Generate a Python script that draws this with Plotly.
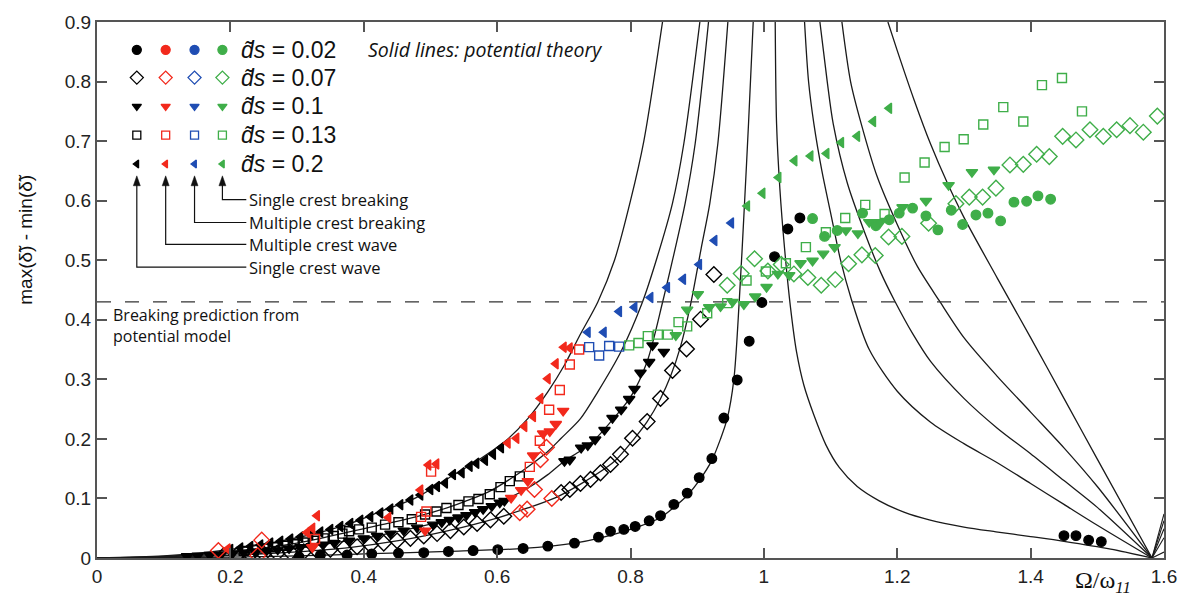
import plotly.graph_objects as go

# ---------------- potential-theory response curves ----------------
# lower (left) branches, one per excitation amplitude d_s
th_lo_002_x = [0, 0.1, 0.2, 0.3, 0.412, 0.527, 0.639, 0.716, 0.752, 0.8, 0.845, 0.866, 0.885, 0.903, 0.922, 0.935, 0.945, 0.955, 0.963, 0.971, 0.977, 0.984]
th_lo_002_y = [0, 0.0004, 0.0015, 0.0036, 0.0072, 0.011, 0.016, 0.025, 0.033, 0.048, 0.068, 0.086, 0.105, 0.13, 0.164, 0.2, 0.234, 0.3, 0.43, 0.596, 0.73, 0.9]

th_lo_007_x = [0, 0.1, 0.2, 0.3, 0.378, 0.452, 0.527, 0.601, 0.646, 0.687, 0.725, 0.776, 0.806, 0.825, 0.845, 0.86, 0.875, 0.89, 0.906, 0.919, 0.931, 0.946]
th_lo_007_y = [0, 0.0011, 0.0044, 0.0104, 0.0175, 0.029, 0.046, 0.0675, 0.084, 0.101, 0.124, 0.1625, 0.201, 0.229, 0.2675, 0.305, 0.355, 0.425, 0.52, 0.596, 0.696, 0.9]

th_lo_010_x = [0, 0.1, 0.2, 0.3, 0.378, 0.427, 0.478, 0.527, 0.576, 0.611, 0.65, 0.676, 0.701, 0.725, 0.75, 0.776, 0.8, 0.825, 0.848, 0.863, 0.882, 0.897, 0.917]
th_lo_010_y = [0, 0.0018, 0.0072, 0.0172, 0.029, 0.039, 0.051, 0.065, 0.082, 0.097, 0.12, 0.14, 0.163, 0.18, 0.203, 0.236, 0.27, 0.33, 0.429, 0.5, 0.596, 0.696, 0.9]

th_lo_013_x = [0, 0.1, 0.2, 0.3, 0.378, 0.427, 0.478, 0.527, 0.552, 0.587, 0.627, 0.651, 0.676, 0.696, 0.725, 0.751, 0.785, 0.818, 0.84, 0.863, 0.88, 0.904]
th_lo_013_y = [0, 0.0025, 0.0105, 0.025, 0.044, 0.056, 0.069, 0.085, 0.095, 0.111, 0.138, 0.157, 0.179, 0.201, 0.234, 0.279, 0.345, 0.43, 0.505, 0.596, 0.696, 0.9]

th_lo_020_x = [0, 0.1, 0.2, 0.3, 0.378, 0.427, 0.478, 0.527, 0.576, 0.612, 0.646, 0.676, 0.701, 0.724, 0.751, 0.776, 0.8, 0.82, 0.848]
th_lo_020_y = [0, 0.0035, 0.0144, 0.034, 0.0575, 0.079, 0.101, 0.134, 0.1675, 0.196, 0.234, 0.279, 0.324, 0.374, 0.43, 0.5, 0.6, 0.7, 0.9]

# upper (right) branches, falling to zero at the anti-resonance
th_hi_002_x = [1.017, 1.019, 1.024, 1.031, 1.04, 1.049, 1.06, 1.075, 1.093, 1.113, 1.14, 1.173, 1.21, 1.248, 1.3, 1.348, 1.4, 1.45, 1.52, 1.582]
th_hi_002_y = [0.9, 0.73, 0.62, 0.52, 0.42, 0.346, 0.29, 0.24, 0.19, 0.152, 0.12, 0.096, 0.077, 0.064, 0.052, 0.044, 0.036, 0.028, 0.015, 0]

th_hi_007_x = [1.061, 1.067, 1.075, 1.087, 1.1, 1.115, 1.131, 1.158, 1.2, 1.25, 1.3, 1.35, 1.4, 1.45, 1.5, 1.582]
th_hi_007_y = [0.9, 0.8, 0.729, 0.65, 0.58, 0.5, 0.435, 0.35, 0.28, 0.228, 0.192, 0.16, 0.125, 0.09, 0.055, 0]

th_hi_010_x = [1.084, 1.095, 1.104, 1.125, 1.15, 1.175, 1.196, 1.224, 1.25, 1.3, 1.35, 1.4, 1.45, 1.5, 1.582]
th_hi_010_y = [0.9, 0.8, 0.729, 0.63, 0.55, 0.48, 0.432, 0.375, 0.33, 0.268, 0.218, 0.175, 0.13, 0.085, 0]

th_hi_013_x = [1.117, 1.13, 1.146, 1.17, 1.2, 1.23, 1.263, 1.3, 1.35, 1.4, 1.45, 1.5, 1.582]
th_hi_013_y = [0.9, 0.8, 0.729, 0.64, 0.56, 0.49, 0.432, 0.37, 0.305, 0.245, 0.185, 0.12, 0]

th_hi_020_x = [1.186, 1.2, 1.225, 1.25, 1.275, 1.3, 1.35, 1.4, 1.45, 1.5, 1.582]
th_hi_020_y = [0.9, 0.852, 0.77, 0.695, 0.63, 0.572, 0.47, 0.37, 0.268, 0.166, 0]

# short rise past the anti-resonance point
tail_x = [1.582, 1.6]
tail_end_y = [0.01, 0.034, 0.049, 0.0625, 0.074]

# ---------------- experiments ----------------
# single crest wave (black)
sw_002_x = [0.303, 0.335, 0.375, 0.412, 0.452, 0.49, 0.527, 0.564, 0.601, 0.639, 0.676, 0.716, 0.752, 0.77, 0.79, 0.807, 0.828, 0.845, 0.865, 0.885, 0.903, 0.922, 0.94, 0.96, 0.978, 0.997, 1.016, 1.036, 1.054, 1.45, 1.468, 1.487, 1.506]
sw_002_y = [0.002, 0.005, 0.005, 0.007, 0.008, 0.009, 0.011, 0.0125, 0.014, 0.016, 0.02, 0.025, 0.035, 0.045, 0.048, 0.053, 0.0625, 0.071, 0.09, 0.109, 0.135, 0.167, 0.235, 0.299, 0.364, 0.429, 0.506, 0.5525, 0.571, 0.0375, 0.0375, 0.03, 0.0275]

sw_007_x = [0.19, 0.21, 0.23, 0.25, 0.27, 0.29, 0.31, 0.33, 0.35, 0.37, 0.39, 0.41, 0.43, 0.45, 0.47, 0.49, 0.51, 0.53, 0.55, 0.57, 0.59, 0.61, 0.696, 0.709, 0.725, 0.74, 0.755, 0.77, 0.785, 0.803, 0.825, 0.845, 0.863, 0.884, 0.905, 0.925]
sw_007_y = [0.004, 0.005, 0.006, 0.007, 0.008, 0.0095, 0.0105, 0.012, 0.0145, 0.0165, 0.019, 0.022, 0.025, 0.029, 0.033, 0.037, 0.041, 0.046, 0.052, 0.058, 0.064, 0.07, 0.11, 0.115, 0.125, 0.132, 0.143, 0.157, 0.174, 0.201, 0.229, 0.268, 0.315, 0.351, 0.401, 0.476]

sw_010_x = [0.135, 0.151, 0.169, 0.186, 0.203, 0.22, 0.237, 0.254, 0.271, 0.288, 0.305, 0.322, 0.339, 0.356, 0.378, 0.4, 0.42, 0.44, 0.46, 0.48, 0.504, 0.517, 0.529, 0.542, 0.554, 0.567, 0.579, 0.592, 0.604, 0.611, 0.701, 0.709, 0.726, 0.736, 0.747, 0.761, 0.773, 0.786, 0.798, 0.806, 0.815, 0.828, 0.833, 0.85]
sw_010_y = [0.003, 0.004, 0.005, 0.006, 0.0075, 0.009, 0.0105, 0.012, 0.014, 0.016, 0.018, 0.02, 0.0225, 0.025, 0.029, 0.033, 0.037, 0.041, 0.046, 0.051, 0.056, 0.06, 0.064, 0.068, 0.072, 0.077, 0.082, 0.087, 0.093, 0.096, 0.1625, 0.165, 0.185, 0.189, 0.199, 0.215, 0.235, 0.249, 0.267, 0.284, 0.311, 0.329, 0.357, 0.346]

sw_013_x = [0.22, 0.235, 0.25, 0.265, 0.28, 0.295, 0.31, 0.325, 0.34, 0.355, 0.368, 0.378, 0.393, 0.412, 0.432, 0.452, 0.472, 0.492, 0.509, 0.524, 0.542, 0.557, 0.572, 0.589, 0.605, 0.619, 0.634]
sw_013_y = [0.012, 0.014, 0.016, 0.018, 0.0205, 0.023, 0.026, 0.029, 0.033, 0.037, 0.041, 0.045, 0.048, 0.051, 0.056, 0.06, 0.065, 0.073, 0.078, 0.084, 0.089, 0.095, 0.099, 0.107, 0.119, 0.129, 0.137]

sw_020_x = [0.2, 0.215, 0.23, 0.245, 0.26, 0.275, 0.29, 0.305, 0.32, 0.335, 0.35, 0.365, 0.38, 0.395, 0.41, 0.425, 0.44, 0.455, 0.47, 0.485, 0.5, 0.51, 0.522, 0.534, 0.547, 0.559, 0.569, 0.582, 0.594, 0.606]
sw_020_y = [0.0144, 0.0167, 0.0193, 0.022, 0.025, 0.0283, 0.0317, 0.0354, 0.0393, 0.0436, 0.048, 0.0529, 0.058, 0.0635, 0.0694, 0.0757, 0.0824, 0.0896, 0.0974, 0.1056, 0.115, 0.12, 0.126, 0.14, 0.143, 0.154, 0.159, 0.164, 0.174, 0.185]

# multiple crest wave (red)
mw_007_x = [0.182, 0.241, 0.247, 0.634, 0.645, 0.656, 0.665, 0.674, 0.682]
mw_007_y = [0.0125, 0.004, 0.03, 0.076, 0.082, 0.115, 0.165, 0.186, 0.1]

mw_010_x = [0.323, 0.492, 0.621, 0.636, 0.646, 0.654, 0.669, 0.679, 0.688, 0.699]
mw_010_y = [0.018, 0.046, 0.101, 0.114, 0.129, 0.172, 0.209, 0.2125, 0.225, 0.247]

mw_013_x = [0.327, 0.486, 0.494, 0.501, 0.649, 0.664, 0.678, 0.694, 0.709, 0.723]
mw_013_y = [0.032, 0.069, 0.078, 0.145, 0.153, 0.197, 0.249, 0.282, 0.325, 0.35]

mw_020_x = [0.196, 0.315, 0.323, 0.33, 0.437, 0.485, 0.497, 0.509, 0.616, 0.629, 0.641, 0.654, 0.665, 0.676, 0.688, 0.7, 0.709]
mw_020_y = [0.015, 0.043, 0.05, 0.071, 0.068, 0.114, 0.156, 0.158, 0.193, 0.201, 0.221, 0.2375, 0.268, 0.301, 0.326, 0.354, 0.3525]

# multiple crest breaking (blue)
mb_013_x = [0.738, 0.753, 0.768, 0.783]
mb_013_y = [0.354, 0.34, 0.356, 0.355]

mb_020_x = [0.736, 0.76, 0.783, 0.806, 0.83, 0.855, 0.879, 0.903, 0.926, 0.951]
mb_020_y = [0.379, 0.379, 0.414, 0.421, 0.4375, 0.454, 0.468, 0.493, 0.533, 0.5625]

# single crest breaking (green)
sb_002_x = [1.073, 1.091, 1.11, 1.148, 1.168, 1.188, 1.203, 1.223, 1.243, 1.261, 1.281, 1.298, 1.318, 1.336, 1.355, 1.375, 1.394, 1.411, 1.43]
sb_002_y = [0.57, 0.54, 0.55, 0.579, 0.558, 0.568, 0.579, 0.5875, 0.5745, 0.551, 0.584, 0.56, 0.576, 0.579, 0.566, 0.5975, 0.599, 0.608, 0.6025]

sb_007_x = [0.945, 0.966, 0.986, 1.006, 1.026, 1.045, 1.066, 1.086, 1.107, 1.127, 1.147, 1.167, 1.187, 1.207, 1.247, 1.288, 1.308, 1.328, 1.348, 1.369, 1.389, 1.409, 1.428, 1.448, 1.468, 1.489, 1.509, 1.529, 1.549, 1.569, 1.59]
sb_007_y = [0.458, 0.4775, 0.5025, 0.482, 0.493, 0.477, 0.471, 0.458, 0.4675, 0.494, 0.509, 0.508, 0.539, 0.54, 0.562, 0.595, 0.606, 0.606, 0.621, 0.66, 0.661, 0.678, 0.674, 0.708, 0.702, 0.719, 0.708, 0.719, 0.726, 0.715, 0.742]

sb_010_x = [0.868, 0.885, 0.901, 0.918, 0.935, 0.953, 0.97, 0.987, 1.004, 1.021, 1.038, 1.055, 1.073, 1.089, 1.106, 1.123, 1.141, 1.158, 1.175, 1.208, 1.243, 1.277, 1.312, 1.345]
sb_010_y = [0.374, 0.417, 0.443, 0.421, 0.4225, 0.43, 0.426, 0.439, 0.455, 0.477, 0.475, 0.495, 0.499, 0.511, 0.522, 0.55, 0.545, 0.564, 0.564, 0.589, 0.5995, 0.626, 0.648, 0.652]

sb_013_x = [0.798, 0.812, 0.826, 0.841, 0.856, 0.872, 0.885, 0.915, 0.945, 0.974, 1.003, 1.033, 1.063, 1.093, 1.122, 1.152, 1.181, 1.211, 1.241, 1.271, 1.2996, 1.329, 1.359, 1.389, 1.417, 1.447, 1.477]
sb_013_y = [0.357, 0.361, 0.3725, 0.375, 0.375, 0.396, 0.389, 0.411, 0.428, 0.466, 0.481, 0.495, 0.522, 0.547, 0.571, 0.593, 0.5775, 0.639, 0.664, 0.69, 0.703, 0.728, 0.757, 0.733, 0.794, 0.806, 0.75]

sb_020_x = [0.975, 0.998, 1.022, 1.046, 1.07, 1.094, 1.116, 1.14, 1.164, 1.188]
sb_020_y = [0.591, 0.6125, 0.639, 0.667, 0.675, 0.679, 0.6975, 0.708, 0.733, 0.755]

breaking_level = 0.43

legend_values = ["0.02", "0.07", "0.1", "0.13", "0.2"]
regime_labels = ["Single crest wave", "Multiple crest wave", "Multiple crest breaking", "Single crest breaking"]

# ---------------- styling ----------------
BLACK = "#000000"
RED = "#f2291c"
BLUE = "#1f4db3"
GREEN = "#3fae49"
LINE = "#1a1a1a"
AXIS = "#555555"

symbols = {
    "0.02": ("circle", 9.5, 9),
    "0.07": ("diamond-open", 12, 10),
    "0.1": ("triangle-down", 10, 8),
    "0.13": ("square-open", 9, 8),
    "0.2": ("triangle-left", 9, 7),
}

# plot-area pixel frame (used for the in-plot key and free text)
PX_L, PX_R, PX_T, PX_B = 97, 1169, 18, 558


def px_to_paper(px, py):
    return (px - PX_L) / (PX_R - PX_L), (PX_B - py) / (PX_B - PX_T)


fig = go.Figure()

# theory curves
lo_curves = [(th_lo_002_x, th_lo_002_y), (th_lo_007_x, th_lo_007_y), (th_lo_010_x, th_lo_010_y),
             (th_lo_013_x, th_lo_013_y), (th_lo_020_x, th_lo_020_y)]
hi_curves = [(th_hi_002_x, th_hi_002_y), (th_hi_007_x, th_hi_007_y), (th_hi_010_x, th_hi_010_y),
             (th_hi_013_x, th_hi_013_y), (th_hi_020_x, th_hi_020_y)]
for cx, cy in lo_curves + hi_curves:
    fig.add_trace(go.Scatter(x=cx, y=cy, mode="lines", line=dict(color=LINE, width=1.3, shape="spline", smoothing=0.8),
                             hoverinfo="skip", showlegend=False))
for ty in tail_end_y:
    fig.add_trace(go.Scatter(x=tail_x, y=[0, ty], mode="lines", line=dict(color=LINE, width=1.1),
                             hoverinfo="skip", showlegend=False))

# breaking threshold
fig.add_trace(go.Scatter(x=[0, 1.6], y=[breaking_level, breaking_level], mode="lines",
                         line=dict(color="#333333", width=1.4, dash="14px,14px"), hoverinfo="skip", showlegend=False))

groups = [
    (sw_002_x, sw_002_y, "0.02", BLACK), (sw_007_x, sw_007_y, "0.07", BLACK), (sw_010_x, sw_010_y, "0.1", BLACK),
    (sw_013_x, sw_013_y, "0.13", BLACK), (sw_020_x, sw_020_y, "0.2", BLACK),
    (mw_007_x, mw_007_y, "0.07", RED), (mw_010_x, mw_010_y, "0.1", RED),
    (mw_013_x, mw_013_y, "0.13", RED), (mw_020_x, mw_020_y, "0.2", RED),
    (mb_013_x, mb_013_y, "0.13", BLUE), (mb_020_x, mb_020_y, "0.2", BLUE),
    (sb_002_x, sb_002_y, "0.02", GREEN), (sb_007_x, sb_007_y, "0.07", GREEN), (sb_010_x, sb_010_y, "0.1", GREEN),
    (sb_013_x, sb_013_y, "0.13", GREEN), (sb_020_x, sb_020_y, "0.2", GREEN),
]
for gx, gy, key, col in groups:
    sym, size, _ = symbols[key]
    fig.add_trace(go.Scatter(x=gx, y=gy, mode="markers",
                             marker=dict(symbol=sym, size=size, color=col, line=dict(color=col, width=1.4)),
                             showlegend=False))

# ---------------- in-plot key (pixel frame overlay) ----------------
key_cols = [137, 166, 195, 223]
key_rows = [46, 74, 103, 132, 161]
key_colors = [BLACK, RED, BLUE, GREEN]
for r, val in enumerate(legend_values):
    sym, _, ksize = symbols[val]
    fig.add_trace(go.Scatter(x=key_cols, y=[key_rows[r]] * 4, xaxis="x2", yaxis="y2", mode="markers",
                             marker=dict(symbol=sym, size=ksize, color=key_colors,
                                         line=dict(color=key_colors, width=1.3)),
                             hoverinfo="skip", showlegend=False))

label_rows = [265, 242, 220, 197]
shapes = []
for c, ly in zip(key_cols, label_rows):
    shapes.append(dict(type="path", xref="x2", yref="y2",
                       path=f"M {c},180 L {c},{ly} L 247,{ly}", line=dict(color="#111", width=1.2)))
    shapes.append(dict(type="path", xref="x2", yref="y2",
                       path=f"M {c},173 L {c - 3.5},183 L {c + 3.5},183 Z", fillcolor="#111",
                       line=dict(color="#111", width=0.5)))

annotations = []
for r, val in enumerate(legend_values):
    annotations.append(dict(x=240, y=key_rows[r], xref="x2", yref="y2", xanchor="left", yanchor="middle",
                            text=f"<i>d\u0303s</i> = {val}", showarrow=False,
                            font=dict(family="Liberation Sans, Arial", size=23, color="#111")))
for lab, ly in zip(regime_labels, label_rows):
    annotations.append(dict(x=248, y=ly, xref="x2", yref="y2", xanchor="left", yanchor="middle",
                            text=lab, showarrow=False,
                            font=dict(family="Open Sans", size=16.5, color="#111")))
annotations.append(dict(x=367, y=46, xref="x2", yref="y2", xanchor="left", yanchor="middle",
                        text="<i>Solid lines: potential theory</i>", showarrow=False,
                        font=dict(family="Open Sans", size=19.5, color="#111")))
annotations.append(dict(x=111, y=324, xref="x2", yref="y2", xanchor="left", yanchor="middle",
                        text="Breaking prediction from<br>potential model", showarrow=False, align="left",
                        font=dict(family="Open Sans", size=16, color="#111")))

# axis titles sit outside the plotting area, so they are placed in paper units
yt_x, yt_y = px_to_paper(25, 237)
annotations.append(dict(x=yt_x, y=yt_y, xref="paper", yref="paper", showarrow=False, textangle=-90,
                        text="max(\u03b4\u0303) - min(\u03b4\u0303)", xanchor="center", yanchor="middle",
                        font=dict(family="Liberation Sans, Arial", size=19, color="#111")))
xt_x, xt_y = px_to_paper(1078, 582)
annotations.append(dict(x=xt_x, y=xt_y, xref="paper", yref="paper", xanchor="left", yanchor="middle",
                        text="\u03a9/\u03c9<sub><i>11</i></sub>", showarrow=False,
                        font=dict(family="Liberation Serif", size=24, color="#111")))

fig.update_layout(
    width=1189, height=603,
    margin=dict(l=PX_L, r=1189 - PX_R, t=PX_T, b=603 - PX_B),
    paper_bgcolor="white", plot_bgcolor="white",
    xaxis=dict(range=[0, 1.6], dtick=0.2, tick0=0, ticks="inside", ticklen=10, tickwidth=1.5, tickcolor=AXIS,
               showline=True, linecolor=AXIS, linewidth=2, mirror="ticks", showgrid=False, zeroline=False,
               tickfont=dict(family="Liberation Sans, Arial", size=19, color="#222")),
    yaxis=dict(range=[0, 0.9], dtick=0.1, tick0=0, ticks="inside", ticklen=10, tickwidth=1.5, tickcolor=AXIS,
               showline=True, linecolor=AXIS, linewidth=2, mirror="ticks", showgrid=False, zeroline=False,
               tickfont=dict(family="Liberation Sans, Arial", size=19, color="#222")),
    xaxis2=dict(range=[PX_L, PX_R], overlaying="x", visible=False, fixedrange=True),
    yaxis2=dict(range=[PX_B, PX_T], overlaying="y", visible=False, fixedrange=True),
    shapes=shapes,
    annotations=annotations,
)

fig.write_html("out.html")
